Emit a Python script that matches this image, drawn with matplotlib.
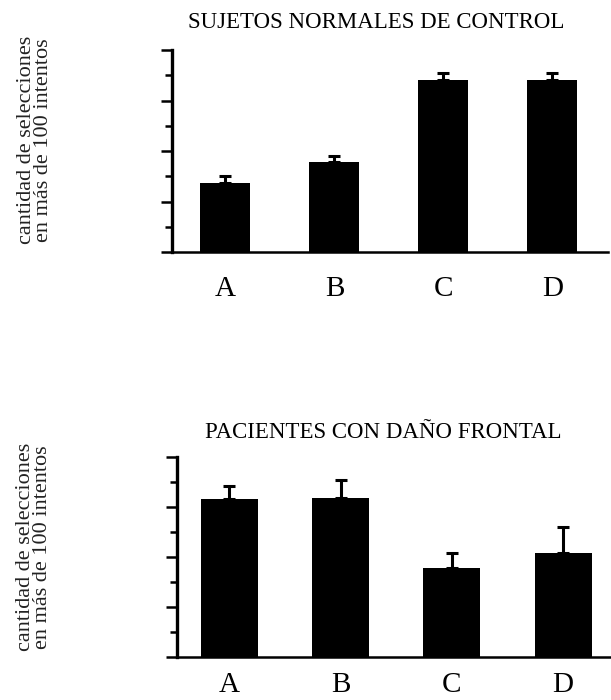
import numpy as np
import matplotlib.pyplot as plt

plt.rcParams['font.family'] = ['Liberation Serif', 'DejaVu Serif']

categories = ["A", "B", "C", "D"]
ylabel = "cantidad de selecciones\nen más de 100 intentos"

# sujetos normales de control
control_vals = [34.3, 44.5, 85.0, 85.0]
control_err = [3.5, 3.0, 3.5, 3.5]

# pacientes con dano frontal
frontal_vals = [79.0, 79.5, 44.3, 52.0]
frontal_err = [6.3, 9.0, 7.5, 13.0]

fig = plt.figure(figsize=(6.11, 7.0), dpi=100)


def panel(rect, vals, err, width, xlim, pad):
    ax = fig.add_axes(rect)
    x = np.arange(len(categories))
    ax.bar(x, vals, width=width, color="black",
           yerr=[np.zeros(len(err)), err],
           error_kw=dict(ecolor="black", elinewidth=2.2, capsize=4, capthick=2.2))
    ax.set_xlim(*xlim)
    ax.set_ylim(0, 100)
    ax.set_xticks(x)
    ax.set_xticklabels(categories, fontsize=21)
    ax.set_yticks(np.arange(0, 101, 25))
    ax.set_yticks(np.arange(12.5, 100, 25), minor=True)
    ax.set_yticklabels([])
    ax.tick_params(axis="x", length=0, pad=pad)
    ax.tick_params(axis="y", which="major", length=8, width=1.8, direction="out")
    ax.tick_params(axis="y", which="minor", length=5, width=1.8, direction="out")
    for s in ["top", "right"]:
        ax.spines[s].set_visible(False)
    ax.spines["left"].set_linewidth(2.4)
    ax.spines["bottom"].set_linewidth(1.8)
    return ax


panel([172 / 611, 1 - 252 / 700, (608 - 172) / 611, 202 / 700],
      control_vals, control_err, 0.46, (-0.49, 3.51), 17)
panel([177 / 611, 1 - 657 / 700, (611 - 177) / 611, 200 / 700],
      frontal_vals, frontal_err, 0.51, (-0.47, 3.43), 11)

fig.text(376 / 611, 1 - 23 / 700, "SUJETOS NORMALES DE CONTROL",
         ha="center", va="center", fontsize=16.5)
fig.text(383 / 611, 1 - 432 / 700, "PACIENTES CON DAÑO FRONTAL",
         ha="center", va="center", fontsize=16.5)

fig.text(35 / 611, 1 - 140 / 700, ylabel, rotation=90, ha="center",
         va="center", fontsize=16, linespacing=0.9, color="#222222")
fig.text(34 / 611, 1 - 547 / 700, ylabel, rotation=90, ha="center",
         va="center", fontsize=16, linespacing=0.9, color="#222222")

plt.savefig("out.png", dpi=100)
